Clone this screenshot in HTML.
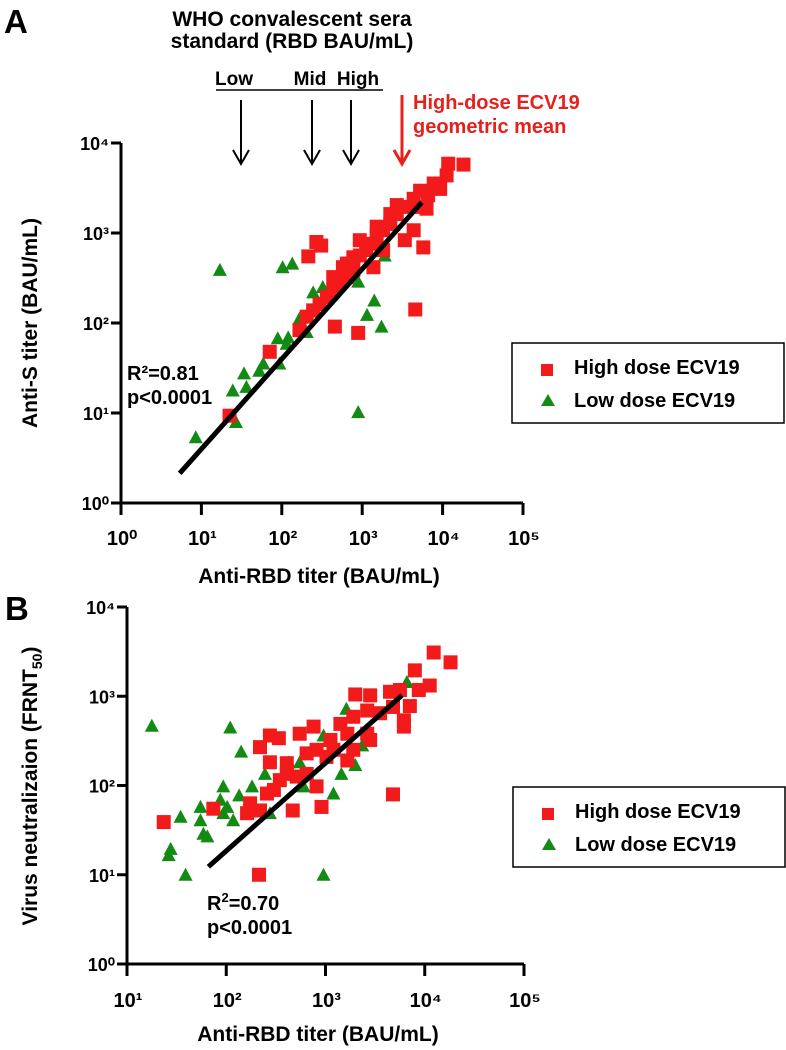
<!DOCTYPE html>
<html><head><meta charset="utf-8"><style>
html,body{margin:0;padding:0;background:#fff;}
svg{display:block;font-family:"Liberation Sans",Arial,sans-serif;font-weight:bold;}
</style></head><body>
<svg id="fig" width="786" height="1050" viewBox="0 0 786 1050">
<text x="4" y="33" font-size="33">A</text>
<text x="292" y="26" font-size="21" text-anchor="middle">WHO convalescent sera</text>
<text x="292" y="48" font-size="21" text-anchor="middle">standard (RBD BAU/mL)</text>
<text x="234" y="85" font-size="19" text-anchor="middle">Low</text>
<text x="310" y="85" font-size="19" text-anchor="middle">Mid</text>
<text x="358" y="85" font-size="19" text-anchor="middle">High</text>
<line x1="216" y1="90" x2="383" y2="90" stroke="#000" stroke-width="1.5"/>
<text x="413" y="109" font-size="20" fill="#e8201c">High-dose ECV19</text>
<text x="413" y="133" font-size="20" fill="#e8201c">geometric mean</text>
<text x="5" y="620" font-size="33">B</text>
<g id="gA"></g>
<g id="gB"></g>
</svg>
<script>
// Panel A data (log10 values)
const aHighX=[4.07,4.26,4.05,3.89,3.97,3.72,3.82,3.64,3.68,3.80,3.43,3.55,3.43,3.35,3.26,3.18,3.10,3.05,2.97,2.89,2.81,2.76,2.89,2.81,2.72,2.64,2.56,2.47,2.39,2.31,2.22,3.64,3.53,3.76,2.43,2.33,2.49,3.66,2.66,2.95,1.85,1.35,3.14,3.26,2.97,2.64,2.85,3.35,3.18];
const aHighY=[3.77,3.76,3.64,3.55,3.49,3.47,3.42,3.38,3.29,3.27,3.31,3.29,3.21,3.10,3.03,2.96,2.88,2.81,2.75,2.73,2.66,2.62,2.59,2.51,2.44,2.36,2.29,2.21,2.14,2.07,1.92,3.03,2.92,2.84,2.90,2.74,2.86,2.15,1.96,1.89,1.68,0.97,2.62,2.81,2.92,2.51,2.66,3.21,3.07];
const aLowX=[1.23,2.01,2.13,2.39,2.51,2.22,1.95,2.08,1.77,1.72,1.97,1.53,1.39,1.56,1.43,0.93,2.95,3.15,3.06,3.24,2.95,3.28,2.31,2.06];
const aLowY=[2.59,2.62,2.66,2.34,2.40,2.05,1.83,1.84,1.55,1.47,1.55,1.44,1.25,1.29,0.90,0.73,1.01,2.25,2.09,1.96,2.46,2.75,1.90,1.77];
const aFitX=[0.73,3.74];
const aFitY=[0.33,3.34];
const aXTicks=[0,1,2,3,4,5];
const aYTicks=[0,1,2,3,4];
// Panel B data (log10 values)
const bHighX=[4.09,4.26,3.90,4.05,3.94,3.65,3.75,3.30,3.45,3.85,3.79,3.79,3.68,3.55,3.42,3.28,3.15,3.22,3.42,3.45,3.28,3.22,3.08,3.01,2.91,2.81,2.88,2.74,2.44,2.53,2.34,2.44,2.61,2.54,2.71,2.91,2.81,2.41,2.48,2.24,2.34,2.21,2.67,2.96,1.87,1.37,2.33,3.68,3.05,2.61];
const bHighY=[3.49,3.38,3.29,3.12,3.07,3.05,3.07,3.02,3.01,2.89,2.73,2.66,2.88,2.81,2.84,2.77,2.69,2.58,2.58,2.51,2.40,2.28,2.40,2.32,2.40,2.36,2.66,2.58,2.56,2.53,2.43,2.26,2.13,2.06,2.10,1.99,2.13,1.91,1.95,1.80,1.72,1.69,1.72,1.76,1.74,1.59,1.00,1.90,2.51,2.25];
const bLowX=[1.25,2.04,2.15,1.54,1.44,1.42,1.59,1.74,1.74,1.77,1.81,1.97,1.94,1.97,2.01,2.07,2.13,2.26,2.39,2.63,2.74,2.98,2.98,3.08,3.21,3.30,3.37,3.82,3.16,2.78,2.44];
const bLowY=[2.67,2.65,2.38,1.65,1.29,1.22,1.00,1.76,1.61,1.46,1.43,1.99,1.84,1.69,1.76,1.61,1.89,1.99,2.13,2.26,2.26,2.56,1.00,1.91,2.86,2.23,2.45,3.16,2.13,1.99,1.69];
const bFitX=[1.82,3.77];
const bFitY=[1.09,3.01];
const bXTicks=[1,2,3,4,5];
const bYTicks=[0,1,2,3,4];

const NS="http://www.w3.org/2000/svg";
function mk(parent,tag,attrs){const e=document.createElementNS(NS,tag);for(const k in attrs)e.setAttribute(k,attrs[k]);parent.appendChild(e);return e;}
const sup={0:'⁰',1:'¹',2:'²',3:'³',4:'⁴',5:'⁵'};

function panel(g,cfg){
  const sx=v=>cfg.x0+(v-cfg.xmin)/(cfg.xmax-cfg.xmin)*(cfg.x1-cfg.x0);
  const sy=v=>cfg.y0-(v-cfg.ymin)/(cfg.ymax-cfg.ymin)*(cfg.y0-cfg.y1);
  let e=mk(g,'line',{x1:cfg.x0,y1:cfg.y0,x2:cfg.x1,y2:cfg.y0,stroke:'#000','stroke-width':3});
  
  
  e=mk(g,'line',{x1:cfg.x0,y1:cfg.y0+1.5,x2:cfg.x0,y2:cfg.y1,stroke:'#000','stroke-width':3});
  
  
  cfg.xt.forEach(v=>{
    const x=sx(v);
    let t=mk(g,'line',{x1:x,y1:cfg.y0,x2:x,y2:cfg.y0+12,stroke:'#000','stroke-width':3});
    
    
    let l=mk(g,'text',{x:x+1,y:cfg.xlabY,'font-size':20,'text-anchor':'middle'});
    l.textContent='10'+sup[v];
    
    
  });
  cfg.yt.forEach(v=>{
    const y=sy(v);
    let t=mk(g,'line',{x1:cfg.x0-10,y1:y,x2:cfg.x0,y2:y,stroke:'#000','stroke-width':3});
    
    
    let l=mk(g,'text',{x:cfg.x0-12,y:y+7,'font-size':18,'text-anchor':'end'});
    l.textContent='10'+sup[v];
    
    
  });
  let xt=mk(g,'text',{x:cfg.xtitleX,y:cfg.xtitleY,'font-size':21,'text-anchor':'middle'});
  xt.textContent='Anti-RBD titer (BAU/mL)';
  
  
  let yt=mk(g,'text',{x:0,y:0,'font-size':21,'text-anchor':'middle',transform:`translate(${cfg.ytitleX},${cfg.ytitleY}) rotate(-90)`});
  yt.innerHTML=cfg.ytitle;
  
  
  cfg.lx.forEach((v,i)=>{
    const x=sx(v),y=sy(cfg.ly[i]);
    const p=mk(g,'polygon',{points:`${x-7},${y+6} ${x+7},${y+6} ${x},${y-7}`,fill:'#138a13'});
    
    
  });
  cfg.hx.forEach((v,i)=>{
    const x=sx(v),y=sy(cfg.hy[i]);
    const r=mk(g,'rect',{x:x-7,y:y-7,width:14,height:14,fill:'#f21a1a'});
    
    
  });
  const f=mk(g,'line',{x1:sx(cfg.fx[0]),y1:sy(cfg.fy[0]),x2:sx(cfg.fx[1]),y2:sy(cfg.fy[1]),stroke:'#000','stroke-width':5});
  
  
  let s1=mk(g,'text',{x:cfg.statX,y:cfg.statY,'font-size':20});
  s1.innerHTML=cfg.stat1;
  
  
  let s2=mk(g,'text',{x:cfg.statX,y:cfg.statY+24,'font-size':20});
  s2.textContent='p<0.0001';
  
  
  const L=cfg.leg;
  let b=mk(g,'rect',{x:L.x,y:L.y,width:272,height:80,fill:'#fff',stroke:'#000','stroke-width':1.5});
  
  
  let sq=mk(g,'rect',{x:L.x+29,y:L.y+21,width:12,height:12,fill:'#f21a1a'});
  
  
  let t1=mk(g,'text',{x:L.x+62,y:L.y+31,'font-size':20});
  t1.textContent='High dose ECV19';
  
  
  let tr=mk(g,'polygon',{points:`${L.x+29},${L.y+63} ${L.x+43},${L.y+63} ${L.x+36},${L.y+51}`,fill:'#138a13'});
  
  
  let t2=mk(g,'text',{x:L.x+62,y:L.y+64,'font-size':20});
  t2.textContent='Low dose ECV19';
  
  
}

panel(document.getElementById('gA'),{x0:121,x1:523,y0:503,y1:143,xmin:0,xmax:5,ymin:0,ymax:4,
  xt:aXTicks,yt:aYTicks,xlabY:545,xtitleX:319,xtitleY:583,ytitleX:37,ytitleY:323,
  ytitle:'Anti-S titer (BAU/mL)',hx:aHighX,hy:aHighY,lx:aLowX,ly:aLowY,fx:aFitX,fy:aFitY,
  statX:127,statY:380,stat1:'R²=0.81',leg:{x:512,y:343}});
panel(document.getElementById('gB'),{x0:127,x1:524,y0:964,y1:607,xmin:1,xmax:5,ymin:0,ymax:4,
  xt:bXTicks,yt:bYTicks,xlabY:1007,xtitleX:318,xtitleY:1041,ytitleX:37,ytitleY:786,
  ytitle:'Virus neutralizaion (FRNT<tspan font-size="14" dy="5">50</tspan><tspan dy="-5">)</tspan>',hx:bHighX,hy:bHighY,lx:bLowX,ly:bLowY,fx:bFitX,fy:bFitY,
  statX:207,statY:910,stat1:'R<tspan font-size="13" dy="-8">2</tspan><tspan dy="8">=0.70</tspan>',leg:{x:513,y:787}});

const svg=document.getElementById('fig');
[[241,'#000',100,'who-low-arrow'],[312,'#000',100,'who-mid-arrow'],[351,'#000',100,'who-high-arrow'],[402,'#e8201c',95,'geomean-arrow']].forEach(a=>{
  const g=mk(svg,'g',{stroke:a[1],'stroke-width':a[1]=='#000'?2:3,fill:'none'});
  
  
  mk(g,'line',{x1:a[0],y1:a[2],x2:a[0],y2:164});
  mk(g,'polyline',{points:`${a[0]-8},${150} ${a[0]},${164} ${a[0]+8},${150}`});
});
</script>
</body></html>
